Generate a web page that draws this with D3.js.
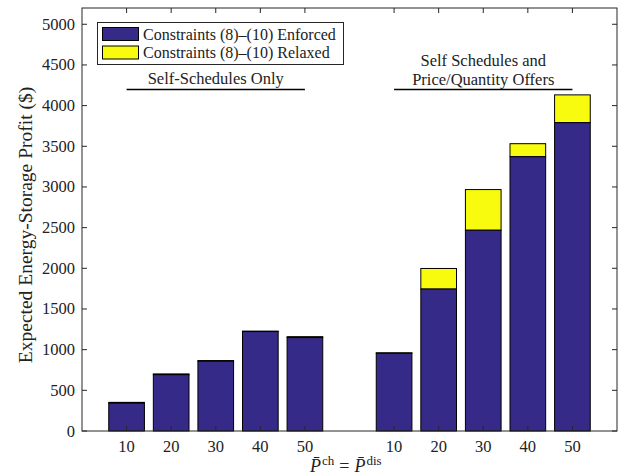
<!DOCTYPE html>
<html>
<head>
<meta charset="utf-8">
<script src="https://cdn.jsdelivr.net/npm/d3@7"></script>
<style>
  body { margin: 0; background: #fff; }
  text { font-family: "Liberation Serif", "DejaVu Serif", serif; }
</style>
</head>
<body>
<div id="chart"></div>
<script>
  const categories = [10, 20, 30, 40, 50]
  // self-schedules only
  const selfEnforced = [342, 692, 858, 1222, 1148]
  const selfRelaxed = [352, 702, 866, 1228, 1160]
  // self schedules and price/quantity offers
  const offerEnforced = [955, 1745, 2468, 3372, 3790]
  const offerRelaxed = [962, 1998, 2968, 3532, 4132]
  const yTicks = [0, 500, 1000, 1500, 2000, 2500, 3000, 3500, 4000, 4500, 5000]

  const width = 629, height = 476
  const m = { left: 82, right: 12, top: 8, bottom: 45 }
  const blue = "#352a87", yellow = "#f9fb0e", axisCol = "#262626"

  const svg = d3.select("#chart").append("svg")
    .attr("width", width).attr("height", height)

  const x = d3.scaleLinear().domain([0, 12]).range([m.left, width - m.right])
  const y = d3.scaleLinear().domain([0, 5200]).range([height - m.bottom, m.top])
  const bw = (x(1) - x(0)) * 0.8

  const bars = []
  categories.forEach((c, i) => {
    bars.push({ pos: i + 1, label: c, enf: selfEnforced[i], rel: selfRelaxed[i] })
  })
  categories.forEach((c, i) => {
    bars.push({ pos: i + 7, label: c, enf: offerEnforced[i], rel: offerRelaxed[i] })
  })

  const g = svg.append("g")
  // yellow part (relaxed minus enforced)
  g.selectAll(".rel").data(bars).enter().append("rect")
    .attr("x", d => x(d.pos) - bw / 2)
    .attr("width", bw)
    .attr("y", d => y(d.rel))
    .attr("height", d => y(d.enf) - y(d.rel))
    .attr("fill", yellow).attr("stroke", "#000").attr("stroke-width", 1)
  g.selectAll(".enf").data(bars).enter().append("rect")
    .attr("x", d => x(d.pos) - bw / 2)
    .attr("width", bw)
    .attr("y", d => y(d.enf))
    .attr("height", d => y(0) - y(d.enf))
    .attr("fill", blue).attr("stroke", "#000").attr("stroke-width", 1)

  // axes box
  const x0 = x(0), x1 = x(12), y0 = y(0), y1 = y(5200)
  svg.append("rect").attr("x", x0).attr("y", y1)
    .attr("width", x1 - x0).attr("height", y0 - y1)
    .attr("fill", "none").attr("stroke", axisCol).attr("stroke-width", 1)

  const tl = 5
  const tickPos = bars.map(d => d.pos)
  svg.append("g").selectAll("line").data(tickPos).enter().append("line")
    .attr("x1", d => x(d)).attr("x2", d => x(d))
    .attr("y1", y0).attr("y2", y0 - tl)
    .attr("stroke", axisCol)
  svg.append("g").selectAll("line").data(tickPos).enter().append("line")
    .attr("x1", d => x(d)).attr("x2", d => x(d))
    .attr("y1", y1).attr("y2", y1 + tl)
    .attr("stroke", axisCol)
  svg.append("g").selectAll("line").data(yTicks).enter().append("line")
    .attr("x1", x0).attr("x2", x0 + tl)
    .attr("y1", d => y(d)).attr("y2", d => y(d))
    .attr("stroke", axisCol)
  svg.append("g").selectAll("line").data(yTicks).enter().append("line")
    .attr("x1", x1).attr("x2", x1 - tl)
    .attr("y1", d => y(d)).attr("y2", d => y(d))
    .attr("stroke", axisCol)

  svg.append("g").selectAll("text").data(bars).enter().append("text")
    .attr("x", d => x(d.pos)).attr("y", y0 + 21)
    .attr("text-anchor", "middle").attr("font-size", 16.5).attr("fill", "#222")
    .text(d => d.label)
  svg.append("g").selectAll("text").data(yTicks).enter().append("text")
    .attr("x", x0 - 7).attr("y", d => y(d) + 5.5)
    .attr("text-anchor", "end").attr("font-size", 16.5).attr("fill", "#222")
    .text(d => d)

  // axis labels
  svg.append("text")
    .attr("transform", `translate(32,225) rotate(-90)`)
    .attr("text-anchor", "middle").attr("font-size", 19.5).attr("fill", "#222")
    .text("Expected Energy-Storage Profit ($)")

  const xl = svg.append("text")
    .attr("x", 310).attr("y", 472)
    .attr("font-size", 18).attr("fill", "#222")
  xl.append("tspan").attr("font-style", "italic").text("P\u0304")
  xl.append("tspan").attr("font-size", 13).attr("dy", -7).attr("dx", 1).text("ch")
  xl.append("tspan").attr("dy", 7).attr("dx", 5).text("=")
  xl.append("tspan").attr("font-style", "italic").attr("dx", 5).text("P\u0304")
  xl.append("tspan").attr("font-size", 13).attr("dy", -7).attr("dx", 1).text("dis")

  // group annotations
  const ann = svg.append("g").attr("font-size", 16.5).attr("fill", "#222")
  ann.append("text").attr("x", x(3)).attr("y", 84).attr("text-anchor", "middle")
    .text("Self-Schedules Only")
  ann.append("text").attr("x", x(9)).attr("y", 66).attr("text-anchor", "middle")
    .text("Self Schedules and")
  ann.append("text").attr("x", x(9)).attr("y", 85).attr("text-anchor", "middle")
    .text("Price/Quantity Offers")
  ;[[1, 5], [7, 11]].forEach(([a, b]) => {
    svg.append("line").attr("x1", x(a)).attr("x2", x(b))
      .attr("y1", 89.5).attr("y2", 89.5)
      .attr("stroke", "#000").attr("stroke-width", 1.5)
  })

  // legend
  const lg = svg.append("g")
  lg.append("rect").attr("x", 97.5).attr("y", 22.5).attr("width", 246).attr("height", 42)
    .attr("fill", "#fff").attr("stroke", axisCol)
  const items = [["Constraints (8)\u2013(10) Enforced", blue], ["Constraints (8)\u2013(10) Relaxed", yellow]]
  items.forEach(([t, c], i) => {
    lg.append("rect").attr("x", 102.5).attr("y", 27.5 + i * 18.5).attr("width", 36).attr("height", 13)
      .attr("fill", c).attr("stroke", "#000")
    lg.append("text").attr("x", 143).attr("y", 39.5 + i * 18.5)
      .attr("font-size", 16).attr("fill", "#222").text(t)
  })
</script>
</body>
</html>
